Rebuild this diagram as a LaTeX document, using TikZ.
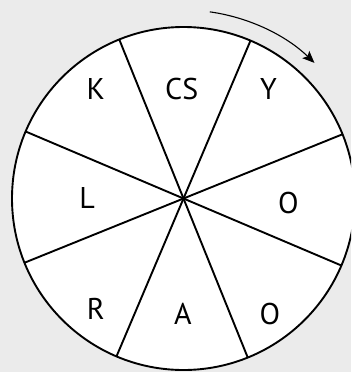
\documentclass[tikz,border=0pt]{standalone}
\usepackage{fontspec}
\setmainfont{PT Sans}
\usetikzlibrary{arrows.meta,calc}
\definecolor{bg}{RGB}{235,235,235}
\begin{document}
\begin{tikzpicture}[x=1pt,y=-1pt,
  lab/.style={anchor=base,inner sep=0pt,font=\fontsize{30}{30}\selectfont},
  spoke/.style={line width=1.9pt},
  wheelstyle/.style={circle,draw,fill=white,line width=1.9pt,minimum size=343pt,inner sep=0pt,outer sep=0pt}]
\fill[bg] (0,0) rectangle (351,372);
\useasboundingbox (0,0) rectangle (351,372);
\clip (0,0) rectangle (351,372);
\coordinate (c) at (183.5,198.5);
\node[wheelstyle] (wheel) at (c) {};
\draw[spoke] (wheel.22.5) -- (wheel.202.5);
\draw[spoke] (wheel.67.5) -- (wheel.247.5);
\draw[spoke] (wheel.112.5) -- (wheel.292.5);
\draw[spoke] (wheel.157.5) -- (wheel.337.5);
\node[lab] (k) at (95.7,99) {K};
\node[lab] (cs) at (181.7,99) {CS};
\node[lab] (y) at (268.5,99) {Y};
\node[lab] (l) at (87.2,208.3) {L};
\node[lab] (o1) at (288.3,213) {O};
\node[lab] (r) at (95.7,319) {R};
\node[lab] (a) at (182.8,324) {A};
\node[lab] (o2) at (270,324) {O};
\coordinate (as) at ($(c)+(-82:188.5)$);
\draw[line width=1.1pt,-{Stealth[length=12pt,width=10pt,inset=2.5pt]}] (as) arc[start angle=-82,end angle=-46,radius=188.5];
\end{tikzpicture}
\end{document}
